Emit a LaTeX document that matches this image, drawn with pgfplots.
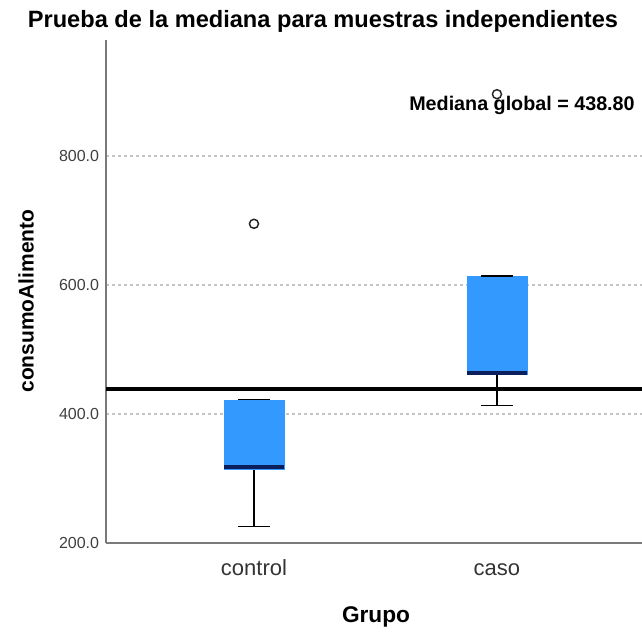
\documentclass[border=0pt]{standalone}
\usepackage{fontspec}
\setmainfont{Liberation Sans}
\usepackage{pgfplots}
\pgfplotsset{compat=1.18}

\definecolor{boxblue}{HTML}{3399FF}
\definecolor{medblue}{HTML}{0B1F5C}
\definecolor{gridgray}{HTML}{C4C4C4}
\definecolor{spine}{HTML}{7A7A7A}

\begin{document}
\begin{tikzpicture}
\useasboundingbox (0,0) rectangle (481.5pt,-474.75pt);
\begin{axis}[
  at={(79.5pt,-407.25pt)}, anchor=south west,
  width=402pt, height=377.25pt, scale only axis,
  xmin=-0.609, xmax=1.597, ymin=200, ymax=980,
  axis x line*=bottom, axis y line*=left,
  axis line style={spine, line width=0.9pt},
  xtick={0,1}, xticklabels={control,caso},
  ytick={200,400,600,800},
  major tick length=0pt,
  ymajorgrids,
  grid style={gridgray, line width=1pt, dash pattern=on 2pt off 2.5pt},
  yticklabel style={font=\fontsize{12}{14}\selectfont, text=black!75, inner sep=0pt, xshift=-5pt},
  xticklabel style={font=\fontsize{16.5}{18}\selectfont, text=black!80, anchor=base, inner sep=0pt, yshift=-24pt},
  /pgf/number format/fixed,
  /pgf/number format/fixed zerofill,
  /pgf/number format/precision=1,
  /pgf/number format/assume math mode=true,
]
% control: box (Q1=315, Q3=422), median 318, whiskers 225..422
\addplot[black, line width=0.9pt] coordinates {(0,315) (0,225)};
\addplot[black, line width=0.9pt] coordinates {(-0.065,225) (0.065,225)};
\addplot[fill=boxblue, draw=boxblue, line width=0.5pt] coordinates
  {(-0.1235,315) (0.1235,315) (0.1235,422) (-0.1235,422)} -- cycle;
\addplot[black, line width=0.9pt] coordinates {(-0.065,422) (0.065,422)};
\addplot[medblue, line width=3pt] coordinates {(-0.1235,318) (0.1235,318)};
% caso: box (Q1=461, Q3=614), median 464, whiskers 413..614
\addplot[black, line width=0.9pt] coordinates {(1,461) (1,413)};
\addplot[black, line width=0.9pt] coordinates {(0.935,413) (1.065,413)};
\addplot[fill=boxblue, draw=boxblue, line width=0.5pt] coordinates
  {(0.8765,461) (1.1235,461) (1.1235,614) (0.8765,614)} -- cycle;
\addplot[black, line width=0.9pt] coordinates {(0.935,614) (1.065,614)};
\addplot[medblue, line width=3pt] coordinates {(0.8765,464) (1.1235,464)};
% outliers
\addplot[only marks, mark=o, mark size=3.4pt, mark options={black!85, line width=1.1pt}]
  coordinates {(0,695) (1,896)};
% overall median
\addplot[black, line width=3pt] coordinates {(-0.609,438.8) (1.597,438.8)};
\node[font=\fontsize{14.8}{17}\selectfont\bfseries] at (axis cs:1.103,879) {Mediana global = 438.80};
\end{axis}
\node[anchor=base, font=\fontsize{17.7}{20}\selectfont\bfseries] at (242.25pt,-20.25pt)
  {Prueba de la mediana para muestras independientes};
\node[rotate=90, font=\fontsize{15.75}{18}\selectfont\bfseries] at (19.5pt,-225.75pt) {consumoAlimento};
\node[anchor=base, font=\fontsize{17}{20}\selectfont\bfseries] at (282pt,-466.5pt) {Grupo};
\end{tikzpicture}
\end{document}
